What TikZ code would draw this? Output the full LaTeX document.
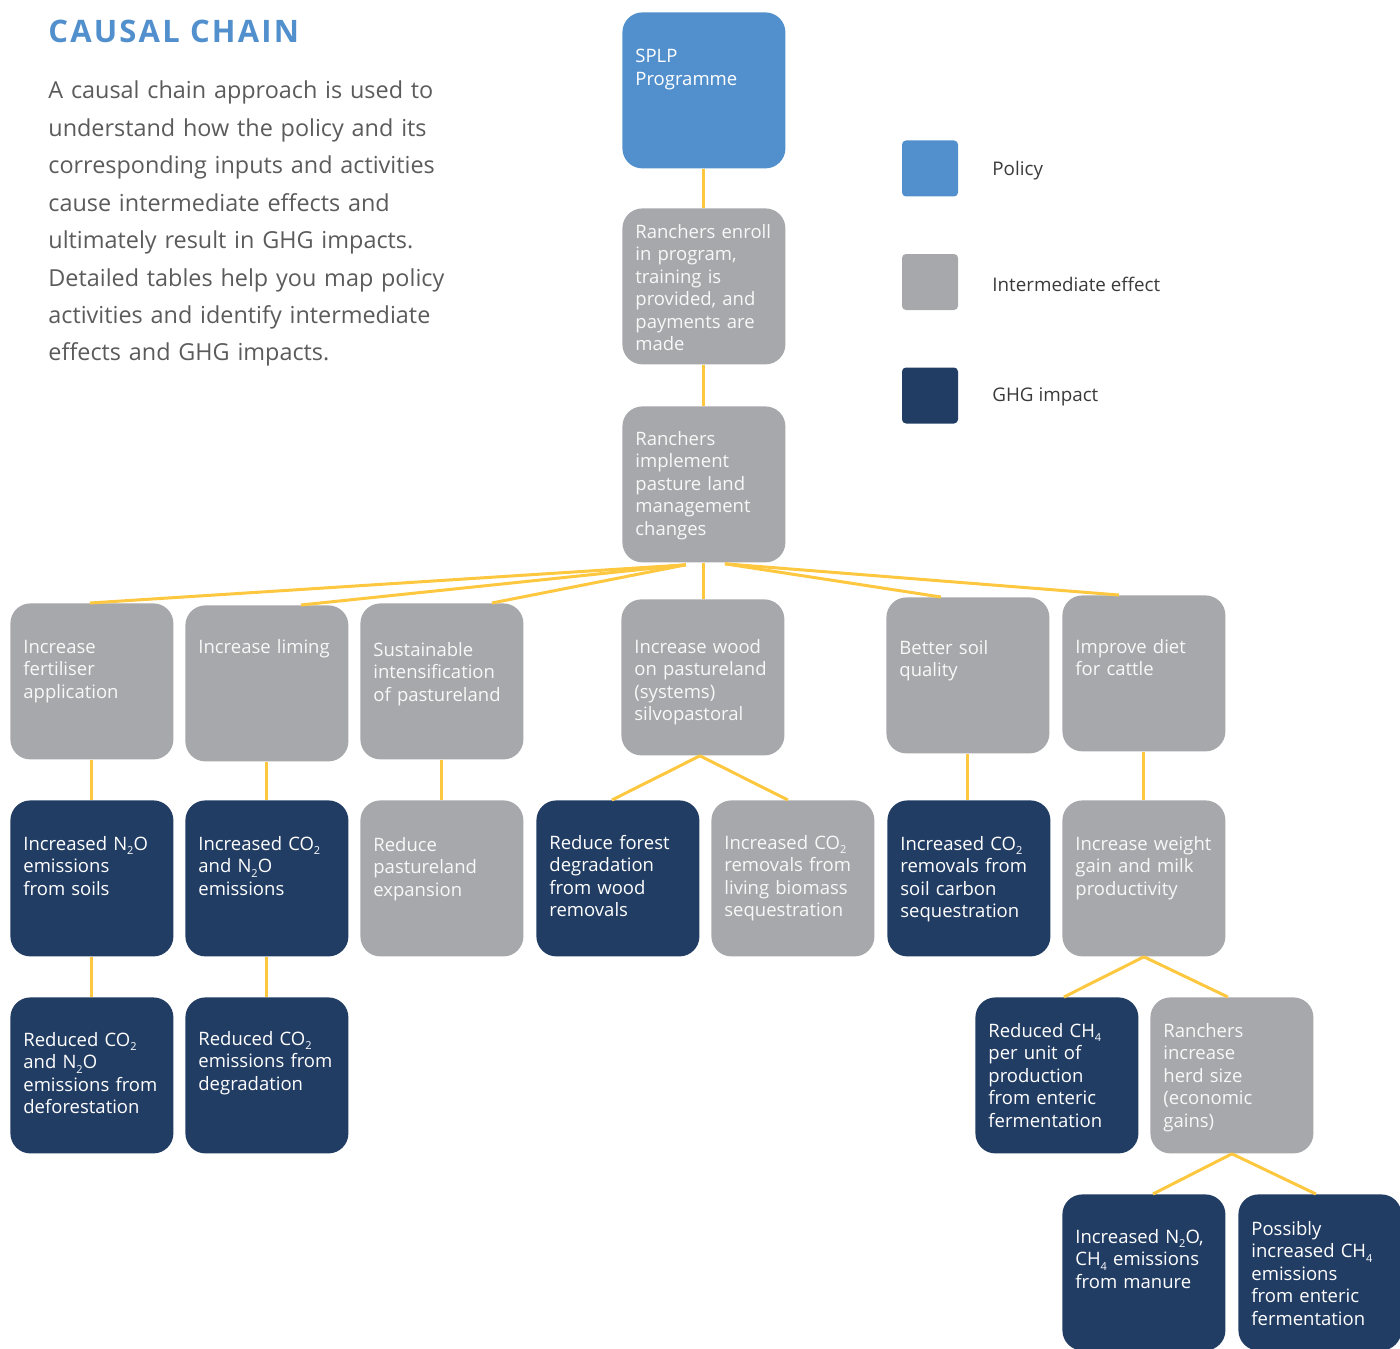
\documentclass[tikz,border=0pt]{standalone}
\usepackage{fontspec}
\setmainfont{Open Sans}
\usetikzlibrary{calc}

\definecolor{policyblue}{HTML}{5290CD}
\definecolor{midgrey}{HTML}{A7A8AB}
\definecolor{ghgnavy}{HTML}{223D64}
\definecolor{linkgold}{HTML}{FDC840}
\definecolor{bodygrey}{HTML}{5B5B5B}
\definecolor{legendgrey}{HTML}{3A3A3A}

\tikzset{
  box/.style = {rounded corners=10pt, minimum width=81.5pt, minimum height=78pt, inner sep=0pt},
  policy/.style = {box, fill=policyblue},
  effect/.style = {box, fill=midgrey},
  impact/.style = {box, fill=ghgnavy},
  boxtext/.style = {text width=76pt, align=left, inner sep=0pt, font=\fontsize{9.25}{11.25}\selectfont},
  policytext/.style = {boxtext, text=white},
  effecttext/.style = {boxtext, text=white!92!midgrey},
  impacttext/.style = {boxtext, text=white},
  swatch/.style = {rounded corners=2pt, minimum size=28pt, inner sep=0pt},
  legendtext/.style = {font=\fontsize{9.4}{11}\selectfont, text=legendgrey, inner sep=0pt},
  link/.style = {draw=linkgold, line width=1.5pt}
}

% small lowered index for chemical formulas
\newcommand{\chemidx}[1]{\raisebox{-0.5ex}{\fontsize{5.5}{6}\selectfont #1}}

% #1 kind, #2 name, #3 x, #4 y (top left), #5 first baseline, #6 text
\newcommand{\chainbox}[6]{%
  \node[#1, anchor=north west] (#2) at (#3,#4) {};
  \node[#1text, anchor=base west] (#2-t) at ($(#2.north west)+(13,#5)$) {#6};
}

\begin{document}
\begin{tikzpicture}[x=0.5pt, y=-0.5pt]
    \useasboundingbox (0,0) rectangle (1400,1348);

    % heading and intro
    \node[anchor=base west, inner sep=0pt, text=policyblue,
          font=\fontsize{15.5}{18}\bfseries\addfontfeature{LetterSpace=7}] (title) at (48,43) {CAUSAL CHAIN};
    \node[anchor=base west, inner sep=0pt, text width=225pt, align=left, text=bodygrey,
          font=\fontsize{11.7}{18.7}\selectfont] (intro) at (48,99)
      {A causal chain approach is used to\\
       understand how the policy and its\\
       corresponding inputs and activities\\
       cause intermediate effects and\\
       ultimately result in GHG impacts.\\
       Detailed tables help you map policy\\
       activities and identify intermediate\\
       effects and GHG impacts.};

    % legend
    \node[swatch, fill=policyblue] (lgpol) at (930,168.5) {};
    \node[swatch, fill=midgrey] (lgeff) at (930,282) {};
    \node[swatch, fill=ghgnavy] (lgghg) at (930,395.5) {};
    \node[legendtext, anchor=west] (lgpol-t) at (992,171) {Policy};
    \node[legendtext, anchor=west] (lgeff-t) at (992,284) {Intermediate effect};
    \node[legendtext, anchor=west] (lgghg-t) at (992,397) {GHG impact};

    % the chain
    \chainbox{policy}{spl}{622}{12}{51}{SPLP\\Programme}
    \chainbox{effect}{enr}{622}{208}{30}{Ranchers enroll\\in program,\\training is\\provided, and\\payments are\\made}
    \chainbox{effect}{imp}{622}{406}{39}{Ranchers\\implement\\pasture land\\management\\changes}

    \chainbox{effect}{fert}{10}{603}{50}{Increase\\fertiliser\\application}
    \chainbox{effect}{lime}{185}{605}{48}{Increase liming}
    \chainbox{effect}{sust}{360}{603}{53}{Sustainable\\intensification\\of pastureland}
    \chainbox{effect}{wood}{621}{599}{54}{Increase wood\\on pastureland\\(systems)\\silvopastoral}
    \chainbox{effect}{soil}{886}{597}{57}{Better soil\\quality}
    \chainbox{effect}{diet}{1062}{595}{58}{Improve diet\\for cattle}

    \chainbox{impact}{nsoil}{10}{800}{50}{Increased N\chemidx{2}O\\emissions\\from soils}
    \chainbox{impact}{cnem}{185}{800}{50}{Increased CO\chemidx{2}\\and N\chemidx{2}O\\emissions}
    \chainbox{effect}{rpast}{360}{800}{51}{Reduce\\pastureland\\expansion}
    \chainbox{impact}{rfor}{536}{800}{49}{Reduce forest\\degradation\\from wood\\removals}
    \chainbox{effect}{bio}{711}{800}{49}{Increased CO\chemidx{2}\\removals from\\living biomass\\sequestration}
    \chainbox{impact}{scarb}{887}{800}{50}{Increased CO\chemidx{2}\\removals from\\soil carbon\\sequestration}
    \chainbox{effect}{wgain}{1062}{800}{50}{Increase weight\\gain and milk\\productivity}

    \chainbox{impact}{defor}{10}{997}{49}{Reduced CO\chemidx{2}\\and N\chemidx{2}O\\emissions from\\deforestation}
    \chainbox{impact}{degr}{185}{997}{48}{Reduced CO\chemidx{2}\\emissions from\\degradation}
    \chainbox{impact}{ch4u}{975}{997}{40}{Reduced CH\chemidx{4}\\per unit of\\production\\from enteric\\fermentation}
    \chainbox{effect}{herd}{1150}{997}{40}{Ranchers\\increase\\herd size\\(economic\\gains)}

    \chainbox{impact}{manu}{1062}{1194}{49}{Increased N\chemidx{2}O,\\CH\chemidx{4} emissions\\from manure}
    \chainbox{impact}{poss}{1238}{1194}{41}{Possibly\\increased CH\chemidx{4}\\emissions\\from enteric\\fermentation}

    % connectors
    \draw[link] (spl.south) -- (enr.north);
    \draw[link] (enr.south) -- (imp.north);
    \draw[link] ($(imp.south)+(-18,2)$) -- ($(fert.north)+(-2,0)$);
    \draw[link] ($(imp.south)+(-18,2)$) -- ($(lime.north)+(34,0)$);
    \draw[link] ($(imp.south)+(-18,2)$) -- ($(sust.north)+(50,0)$);
    \draw[link] (imp.south) -- (wood.north -| imp.south);
    \draw[link] ($(imp.south)+(21,1)$) -- ($(soil.north)+(-27,0)$);
    \draw[link] ($(imp.south)+(21,1)$) -- ($(diet.north)+(-25,0)$);

    \draw[link] (fert.south) -- (nsoil.north);
    \draw[link] (nsoil.south) -- (defor.north);
    \draw[link] (lime.south) -- (cnem.north);
    \draw[link] (cnem.south) -- (degr.north);
    \draw[link] (sust.south) -- (rpast.north);
    \draw[link] ($(wood.south)+(-3,0)$) -- ($(rfor.north)+(-6,0)$);
    \draw[link] ($(wood.south)+(-3,0)$) -- ($(bio.north)+(-5,0)$);
    \draw[link] (soil.south) -- (scarb.north -| soil.south);
    \draw[link] (diet.south) -- (wgain.north);
    \draw[link] (wgain.south) -- ($(ch4u.north)+(7,0)$);
    \draw[link] (wgain.south) -- ($(herd.north)+(-4,0)$);
    \draw[link] (herd.south) -- ($(manu.north)+(9,0)$);
    \draw[link] (herd.south) -- ($(poss.north)+(-4,0)$);
\end{tikzpicture}
\end{document}
